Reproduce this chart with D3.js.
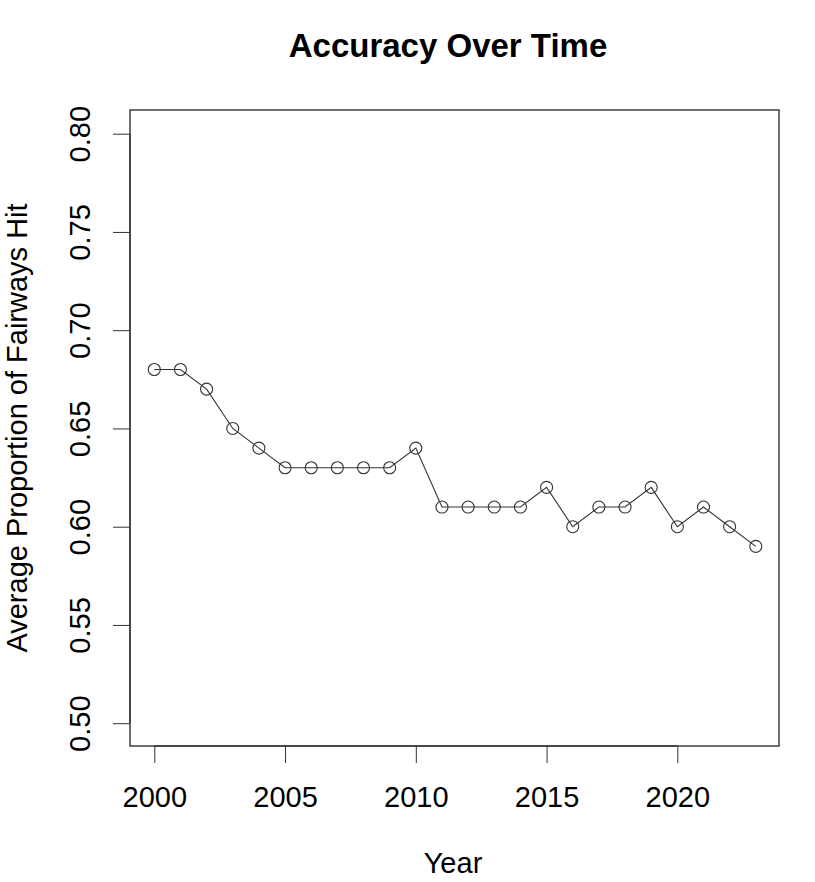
<!DOCTYPE html>
<html>
<head>
<meta charset="utf-8">
<script src="https://cdn.jsdelivr.net/npm/d3@7.9.0/dist/d3.min.js"></script>
<style>
  body { margin: 0; background: #fff; }
  text { font-family: "Liberation Sans", Arial, sans-serif; fill: #000; }
</style>
</head>
<body>
<svg id="chart" width="815" height="882"></svg>
<script>
// data
const years = [2000, 2001, 2002, 2003, 2004, 2005, 2006, 2007, 2008, 2009, 2010, 2011,
               2012, 2013, 2014, 2015, 2016, 2017, 2018, 2019, 2020, 2021, 2022, 2023];
const accuracy = [0.68, 0.68, 0.67, 0.65, 0.64, 0.63, 0.63, 0.63, 0.63, 0.63, 0.64, 0.61,
                  0.61, 0.61, 0.61, 0.62, 0.60, 0.61, 0.61, 0.62, 0.60, 0.61, 0.60, 0.59];
const xTicks = [2000, 2005, 2010, 2015, 2020];
const yTicks = [0.50, 0.55, 0.60, 0.65, 0.70, 0.75, 0.80];

const svg = d3.select('#chart');

// plot box (like R's base graphics region)
const box = { left: 130, right: 779, top: 110, bottom: 746 };

// scales: R extends the range by 4% on each side
let x = d3.scaleLinear().domain([2000, 2023]).range([154.3, 755.8]);
let y = d3.scaleLinear().domain([0.50, 0.80]).range([723.2, 133.7]);

// frame
svg.append('rect')
  .attr('x', box.left).attr('y', box.top)
  .attr('width', box.right - box.left).attr('height', box.bottom - box.top)
  .attr('fill', 'none').attr('stroke', '#222').attr('stroke-width', 1.3);

// x axis
const xAxis = svg.append('g').attr('transform', `translate(0,${box.bottom})`)
  .call(d3.axisBottom(x).tickValues(xTicks).tickFormat(d3.format('d')).tickSize(17));
xAxis.select('.domain')
  .attr('d', `M${x(2000)},0H${x(2020)}`).attr('stroke', '#222');
xAxis.selectAll('.tick line').attr('stroke', '#333');
xAxis.selectAll('.tick text')
  .attr('font-size', 29).attr('font-family', '"Liberation Sans", Arial, sans-serif')
  .attr('fill', '#000').attr('dy', null).attr('y', 61);

// y axis with rotated labels
const yAxis = svg.append('g').attr('transform', `translate(${box.left},0)`)
  .call(d3.axisLeft(y).tickValues(yTicks).tickFormat(d3.format('.2f')).tickSize(17));
yAxis.select('.domain')
  .attr('d', `M0,${y(0.50)}V${y(0.80)}`).attr('stroke', '#222');
yAxis.selectAll('.tick line').attr('stroke', '#333');
yAxis.selectAll('.tick text')
  .attr('font-size', 29).attr('font-family', '"Liberation Sans", Arial, sans-serif')
  .attr('fill', '#000')
  .attr('x', null).attr('dy', null)
  .attr('text-anchor', 'middle')
  .attr('transform', 'translate(-40,0) rotate(-90)');

// line + open circles (type = "o")
const line = d3.line().x((d, i) => x(years[i])).y(d => y(d));
svg.append('path')
  .datum(accuracy)
  .attr('d', line)
  .attr('fill', 'none').attr('stroke', '#333').attr('stroke-width', 1.1);

svg.append('g').selectAll('circle')
  .data(accuracy)
  .join('circle')
  .attr('cx', (d, i) => x(years[i]))
  .attr('cy', d => y(d))
  .attr('r', 6)
  .attr('fill', 'none').attr('stroke', '#333').attr('stroke-width', 1.1);

// titles
svg.append('text')
  .attr('x', 448).attr('y', 57)
  .attr('text-anchor', 'middle').attr('font-size', 33).attr('font-weight', 'bold')
  .text('Accuracy Over Time');

svg.append('text')
  .attr('x', 453).attr('y', 873)
  .attr('text-anchor', 'middle').attr('font-size', 29)
  .text('Year');

svg.append('text')
  .attr('transform', `translate(27,${(box.top + box.bottom) / 2}) rotate(-90)`)
  .attr('text-anchor', 'middle').attr('font-size', 29)
  .text('Average Proportion of Fairways Hit');
</script>
</body>
</html>
